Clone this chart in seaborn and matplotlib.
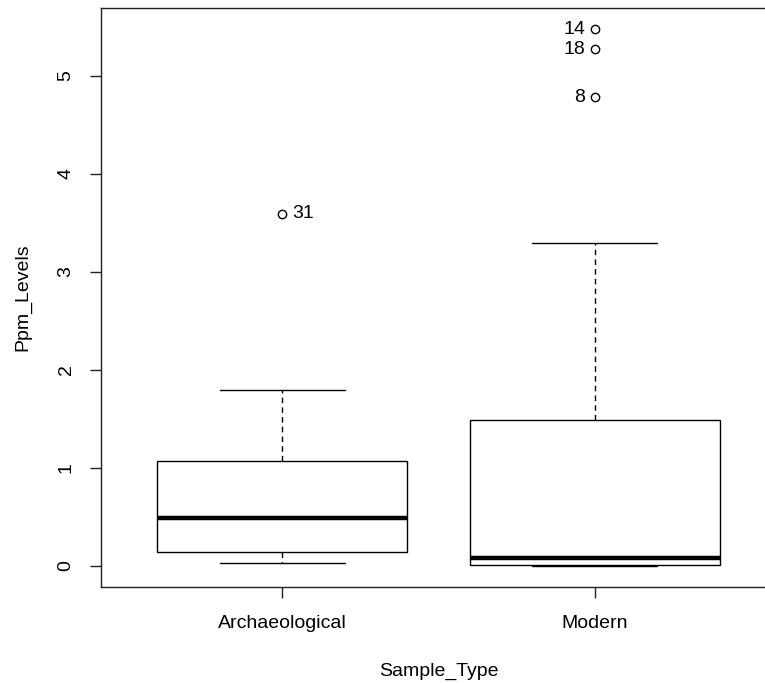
import pandas as pd
import numpy as np
import matplotlib
matplotlib.use('Agg')
import matplotlib.pyplot as plt
import seaborn as sns

# ==============================================
# DATA
# ==============================================

modern_ids = list(range(1, 22))
modern_ppm = [0.05, 0.00, 1.49, 0.12, 0.00, 0.80, 0.02, 4.78, 0.00, 3.29, 0.08,
              0.03, 0.45, 5.47, 0.00, 2.05, 0.01, 5.27, 0.06, 0.00, 0.25]

arch_ids = list(range(22, 35))
arch_ppm = [0.49, 0.14, 1.07, 0.03, 0.62, 1.79, 0.22, 0.10, 0.85, 3.59, 0.06,
            1.30, 0.35]

sample_order = ['Archaeological', 'Modern']
y_ticks = [0, 1, 2, 3, 4, 5]

df = pd.DataFrame({
    'ID': arch_ids + modern_ids,
    'Sample_Type': ['Archaeological'] * len(arch_ids) + ['Modern'] * len(modern_ids),
    'Ppm_Levels': arch_ppm + modern_ppm,
})

# ==============================================
# PLOT
# ==============================================

sns.set_style('white')
plt.rcParams['font.family'] = ['Liberation Sans', 'DejaVu Sans']
plt.rcParams['text.color'] = 'black'
plt.rcParams['axes.labelcolor'] = 'black'
plt.rcParams['xtick.color'] = 'black'
plt.rcParams['ytick.color'] = 'black'
fs = 14

fig = plt.figure(figsize=(7.65, 6.83), dpi=100)
ax = fig.add_axes([101 / 765, 1 - 587 / 683, (776 - 101) / 765, (587 - 8) / 683])

sns.boxplot(
    data=df, x='Sample_Type', y='Ppm_Levels', order=sample_order, ax=ax,
    color='white', linecolor='black', linewidth=1, width=0.8, whis=1.5,
    medianprops={'linewidth': 3.2, 'color': 'black'},
    whiskerprops={'linestyle': (0, (4, 3)), 'linewidth': 1},
    capprops={'linewidth': 1},
    flierprops={'marker': 'o', 'markerfacecolor': 'none',
                'markeredgecolor': 'black', 'markersize': 6,
                'markeredgewidth': 1},
)

# label the outliers with their row id, like R's identify()
for pos, name in enumerate(sample_order):
    grp = df[df['Sample_Type'] == name]
    q1, q3 = np.percentile(grp['Ppm_Levels'], [25, 75])
    hi = q3 + 1.5 * (q3 - q1)
    lo = q1 - 1.5 * (q3 - q1)
    out = grp[(grp['Ppm_Levels'] > hi) | (grp['Ppm_Levels'] < lo)]
    for _, row in out.iterrows():
        if name == 'Modern':
            ax.annotate(str(row['ID']), (pos, row['Ppm_Levels']),
                        xytext=(-7, 0), textcoords='offset points',
                        ha='right', va='center', fontsize=fs)
        else:
            ax.annotate(str(row['ID']), (pos, row['Ppm_Levels']),
                        xytext=(7, 0), textcoords='offset points',
                        ha='left', va='center', fontsize=fs)

ymax = df['Ppm_Levels'].max()
ax.set_ylim(-0.04 * ymax, ymax * 1.04)
ax.set_xlim(-0.58, 1.58)
ax.set_yticks(y_ticks)
ax.set_yticklabels([str(t) for t in y_ticks], rotation=90, va='center')

ax.set_xlabel('Sample_Type', fontsize=fs, labelpad=22)
ax.set_ylabel('Ppm_Levels', fontsize=fs, labelpad=19)

for side in ['left', 'right', 'top', 'bottom']:
    ax.spines[side].set_visible(True)
    ax.spines[side].set_color('#222222')
    ax.spines[side].set_linewidth(1)

ax.tick_params(axis='both', direction='out', length=8, width=1,
               color='#222222', labelsize=fs, left=True, bottom=True)
ax.tick_params(axis='x', pad=12)
ax.tick_params(axis='y', pad=11)

plt.savefig('out.png', dpi=100)
